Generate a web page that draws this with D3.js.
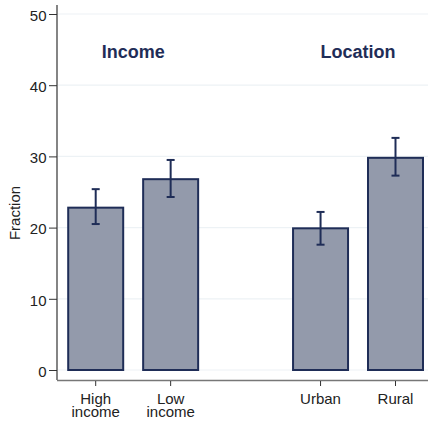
<!DOCTYPE html>
<html><head><meta charset="utf-8">
<script src="https://cdn.jsdelivr.net/npm/d3@7"></script>
<style>body{margin:0;background:#fff}svg{display:block}text{font-family:"Liberation Sans",Arial,Helvetica,sans-serif}</style>
</head><body>
<svg id="c" width="428" height="423"></svg>
<script>
const categories = ["High income", "Low income", "Urban", "Rural"];
const slots = [0, 1, 3, 4];
const values = [22.8, 26.8, 19.9, 29.8];
const errLow = [20.5, 24.3, 17.6, 27.3];
const errHigh = [25.4, 29.5, 22.2, 32.6];
const groups = ["Income", "Location"];
const groupSlots = [0.5, 3.5];
const yTicks = [0, 10, 20, 30, 40, 50];

const svg = d3.select("#c");
const navy = "#1f2d57";
const x = d3.scaleLinear().domain([0, 4]).range([95.7, 395.5]);
const y = d3.scaleLinear().domain([0, 50]).range([370, 14]);
const bw = 55;

// gridlines
svg.append("g").selectAll("line").data(yTicks).join("line")
  .attr("x1", 58).attr("x2", 428)
  .attr("y1", d => y(d)).attr("y2", d => y(d))
  .attr("stroke", "#edf2f5").attr("stroke-width", 1.2);

// bars
svg.append("g").selectAll("rect").data(values).join("rect")
  .attr("x", (d, i) => x(slots[i]) - bw / 2)
  .attr("width", bw)
  .attr("y", d => y(d))
  .attr("height", d => y(0) - y(d))
  .attr("fill", "#939aab")
  .attr("stroke", navy).attr("stroke-width", 2);

// error bars
const eb = svg.append("g").attr("stroke", navy).attr("stroke-width", 2);
values.forEach((v, i) => {
  const cx = x(slots[i]);
  eb.append("line").attr("x1", cx).attr("x2", cx).attr("y1", y(errLow[i])).attr("y2", y(errHigh[i]));
  [errLow[i], errHigh[i]].forEach(e => eb.append("line")
    .attr("x1", cx - 4).attr("x2", cx + 4).attr("y1", y(e)).attr("y2", y(e)));
});

// y axis
const ya = svg.append("g").attr("transform", "translate(57,0)")
  .call(d3.axisLeft(y).tickValues(yTicks).tickSize(8).tickPadding(2.5));
ya.select(".domain").remove();
ya.attr("font-size", 15).attr("font-family", null);
ya.selectAll(".tick line").attr("stroke", "#333");
ya.selectAll(".tick text").attr("fill", "#222").attr("dy", "0.42em");
svg.append("line").attr("x1", 57).attr("x2", 57).attr("y1", 5).attr("y2", 380).attr("stroke", "#333").attr("stroke-width", 1.2);

// x axis
svg.append("line").attr("x1", 57).attr("x2", 428).attr("y1", 380.5).attr("y2", 380.5).attr("stroke", "#777").attr("stroke-width", 1.5);
const xt = svg.append("g");
categories.forEach((c, i) => {
  const cx = x(slots[i]);
  xt.append("line").attr("x1", cx).attr("x2", cx).attr("y1", 381).attr("y2", 386).attr("stroke", "#333");
  const words = c.split(" ");
  const t = xt.append("text").attr("text-anchor", "middle").attr("font-size", 15).attr("fill", "#222");
  words.forEach((w, k) => t.append("tspan").attr("x", cx).attr("y", 404 + k * 12.8).text(w));
});

// y label
svg.append("text").attr("transform", "translate(19.5,213) rotate(-90)")
  .attr("text-anchor", "middle").attr("font-size", 15).attr("fill", "#222").text("Fraction");

// group labels
groups.forEach((g, i) => svg.append("text")
  .attr("x", x(groupSlots[i])).attr("y", 58)
  .attr("text-anchor", "middle").attr("font-size", 18).attr("font-weight", "bold")
  .attr("fill", "#1f2d57").text(g));
</script>
</body></html>
